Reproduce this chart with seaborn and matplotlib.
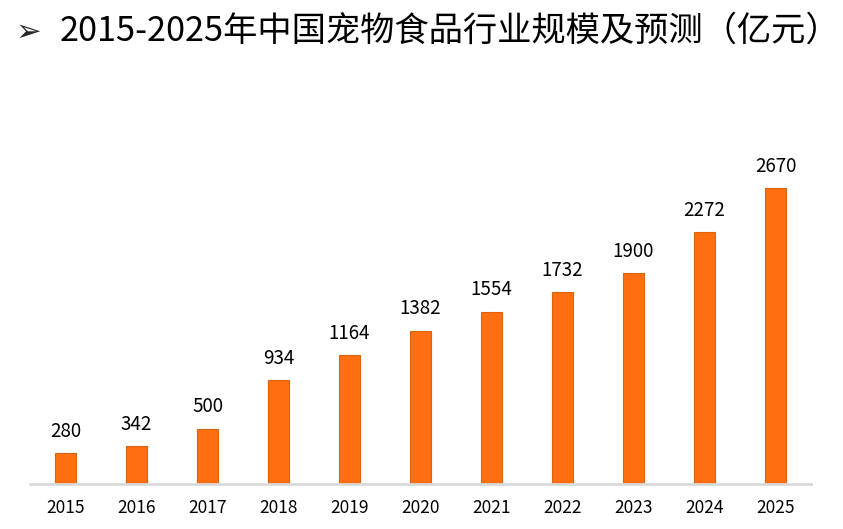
import matplotlib
matplotlib.use("Agg")
import matplotlib.pyplot as plt
import seaborn as sns
import pandas as pd

years = ["2015", "2016", "2017", "2018", "2019", "2020", "2021", "2022", "2023", "2024", "2025"]
values = [280, 342, 500, 934, 1164, 1382, 1554, 1732, 1900, 2272, 2670]
title = "2015-2025年中国宠物食品行业规模及预测（亿元）"

sns.set_theme(style="white")
plt.rcParams['font.family'] = ['Noto Sans CJK SC', 'DejaVu Sans']

df = pd.DataFrame({"year": years, "value": values})

fig = plt.figure(figsize=(8.43, 5.29), dpi=100)
ax = fig.add_axes([30/843, (529-484)/529, 781/843, (484-151)/529])
sns.barplot(data=df, x="year", y="value", ax=ax, color="#FF6E10",
            width=0.3, saturation=1, edgecolor="#DA640F", linewidth=0.8)

ax.set_xlim(-0.5, len(years) - 0.5)
ax.set_ylim(0, 3000)
for s in ["top", "right", "left"]:
    ax.spines[s].set_visible(False)
ax.spines["bottom"].set_color("#D9D9D9")
ax.spines["bottom"].set_linewidth(2)
ax.set_yticks([])
ax.set_xlabel("")
ax.set_ylabel("")
ax.tick_params(axis="x", length=0, pad=11, labelsize=12.5, colors="#000000")

for c in ax.containers:
    ax.bar_label(c, labels=[str(v) for v in values], padding=8, fontsize=13.5, color="#000000")

fig.text(16/843, 1 - 32/529, "➢", family=["DejaVu Sans"], fontsize=22, va="center", ha="left",
         fontweight="bold")
fig.text(60/843, 1 - 31/529, title, fontsize=24.7, va="center", ha="left", color="#000000")

fig.savefig("out.png", dpi=100)
